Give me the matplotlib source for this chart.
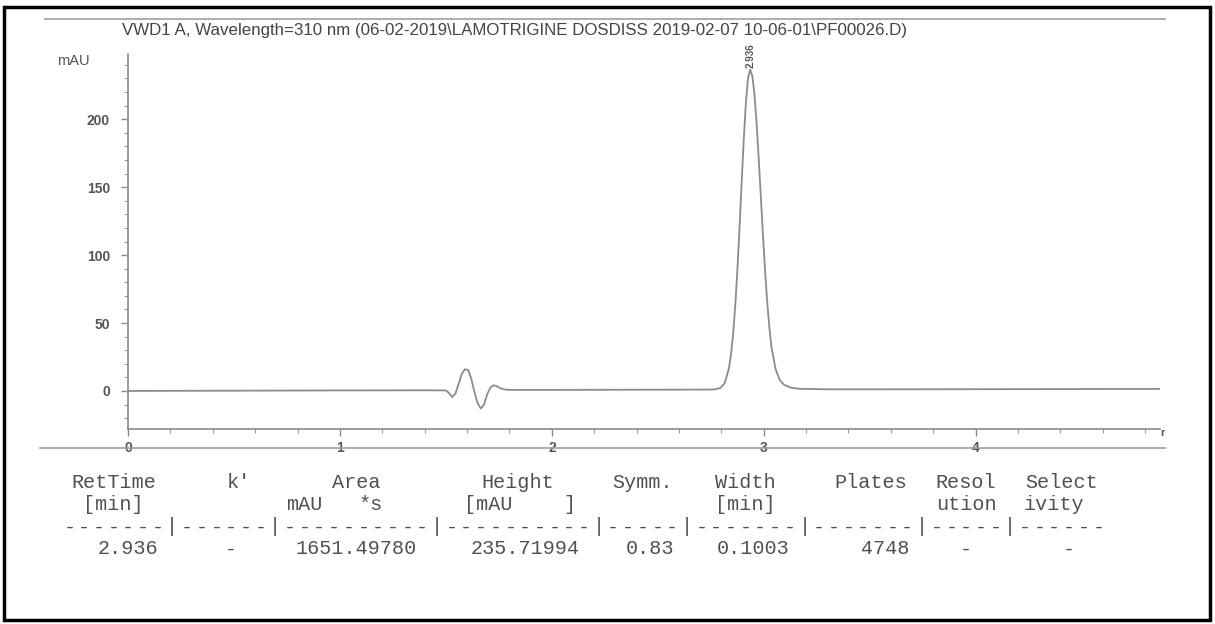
import re
import matplotlib.pyplot as plt
from matplotlib.lines import Line2D
from matplotlib.patches import Rectangle
from matplotlib.ticker import MultipleLocator

W, H = 1215, 624

def fx(x):
    return x / W

def fy(y):
    return 1 - y / H

# =====================
# DATA
# =====================
title = r"VWD1 A, Wavelength=310 nm (06-02-2019\LAMOTRIGINE DOSDISS 2019-02-07 10-06-01\PF00026.D)"

time_min = [0.00, 0.50, 1.00, 1.40, 1.50, 1.515, 1.53, 1.545, 1.56, 1.575,
            1.59, 1.605, 1.62, 1.635, 1.65, 1.665, 1.68, 1.695, 1.71, 1.725,
            1.74, 1.76, 1.78, 1.80, 2.00, 2.40, 2.70,
            2.766, 2.796, 2.816, 2.836, 2.846, 2.856, 2.866, 2.876, 2.886, 2.896,
            2.906, 2.916, 2.926, 2.936, 2.946, 2.956, 2.966, 2.976, 2.986, 2.996,
            3.006, 3.016, 3.026, 3.036, 3.056, 3.076, 3.096, 3.126, 3.166, 3.30,
            3.60, 4.00, 4.50, 4.87]
signal_mau = [0.0, 0.2, 0.4, 0.5, 0.4, -1.5, -4.5, -2.0, 5.0, 12.5,
              16.0, 15.5, 9.0, -1.0, -9.0, -13.0, -10.0, -2.5, 2.5, 4.2,
              3.5, 1.8, 1.0, 0.8, 0.8, 0.9, 1.0,
              1.1, 2.2, 5.8, 16.8, 27.4, 42.7, 63.7, 90.0, 120.9, 153.9,
              185.8, 212.5, 230.4, 236.5, 232.0, 218.6, 197.9, 172.1, 144.0, 115.7,
              89.5, 66.5, 47.6, 32.9, 16.0, 8.0, 4.5, 2.5, 1.6, 1.2,
              1.2, 1.3, 1.4, 1.5]

peak_rt = 2.936
peak_height = 236.5

table_head1 = "RetTime    k'     Area      Height   Symm.  Width   Plates Resol Select"
table_head2 = " [min]         mAU  *s     [mAU   ]         [min]          ution ivity"
table_rule  = "-------|------|----------|----------|-----|-------|-------|-----|------"
table_row   = "  2.936    -   1651.49780  235.71994  0.83  0.1003    4748   -      -"

# =====================
# FIGURE
# =====================
fig = plt.figure(figsize=(W / 100, H / 100), dpi=100)
fig.patch.set_facecolor("white")

ax = fig.add_axes([fx(128), fy(429), fx(1160 - 128), (429 - 54) / H])
ax.plot(time_min, signal_mau, color="#8c8c8c", lw=1.3)
ax.set_xlim(0, 4.87)
ax.set_ylim(-28, 248)

for s in ["top", "right"]:
    ax.spines[s].set_visible(False)
for s in ["left", "bottom"]:
    ax.spines[s].set_color("#8a8a8a")
    ax.spines[s].set_linewidth(1.2)

ax.xaxis.set_major_locator(MultipleLocator(1))
ax.xaxis.set_minor_locator(MultipleLocator(0.2))
ax.yaxis.set_major_locator(MultipleLocator(50))
ax.yaxis.set_minor_locator(MultipleLocator(10))
ax.tick_params(which="major", length=5, width=1, color="#8a8a8a",
               labelsize=10, labelcolor="#555555")
ax.tick_params(axis="y", which="major", pad=8)
ax.tick_params(which="minor", length=3, width=0.8, color="#9a9a9a")
for lab in ax.get_xticklabels() + ax.get_yticklabels():
    lab.set_fontweight("bold")
    lab.set_family("Liberation Sans")

ax.text(peak_rt, peak_height + 1, "2.936", rotation=90, ha="center", va="bottom",
        fontsize=7, fontweight="bold", color="#555555", family="Liberation Sans",
        clip_on=False)

# header / frame pieces of the printout
fig.text(fx(73), fy(61), "mAU", ha="center", va="center", fontsize=10.5,
         color="#555555", family="Liberation Sans")
fig.text(fx(1162), fy(433), "r", ha="center", va="center", fontsize=8,
         fontweight="bold", color="#555555", family="Liberation Sans")
fig.text(fx(122), fy(31), title, ha="left", va="center", fontsize=12.2,
         color="#444444", family="Liberation Sans")
fig.add_artist(Line2D([fx(45), fx(1165)], [fy(19), fy(19)], color="#a0a0a0", lw=1.2))
fig.add_artist(Line2D([fx(40), fx(1165)], [fy(448), fy(448)], color="#a0a0a0", lw=1.2))

# =====================
# RESULTS TABLE (fixed 14.7 px character pitch like the printer)
# =====================
X0, PITCH = 62, 14.7

def put_row(line, y, pattern=r"\S+"):
    for m in re.finditer(pattern, line):
        x = X0 + (m.start() + len(m.group()) / 2) * PITCH
        fig.text(fx(x), fy(y), m.group(), ha="center", va="center", fontsize=14.5,
                 color="#505050", family="Liberation Mono")

put_row(table_head1, 483)
put_row(table_head2, 505)
put_row(table_rule, 527, pattern=r"\S")
put_row(table_row, 549)

fig.add_artist(Rectangle((fx(4), fy(620)), fx(1210 - 4), (620 - 7) / H,
                         fill=False, ec="black", lw=2.5, transform=fig.transFigure))

fig.savefig("out.png", dpi=100)
